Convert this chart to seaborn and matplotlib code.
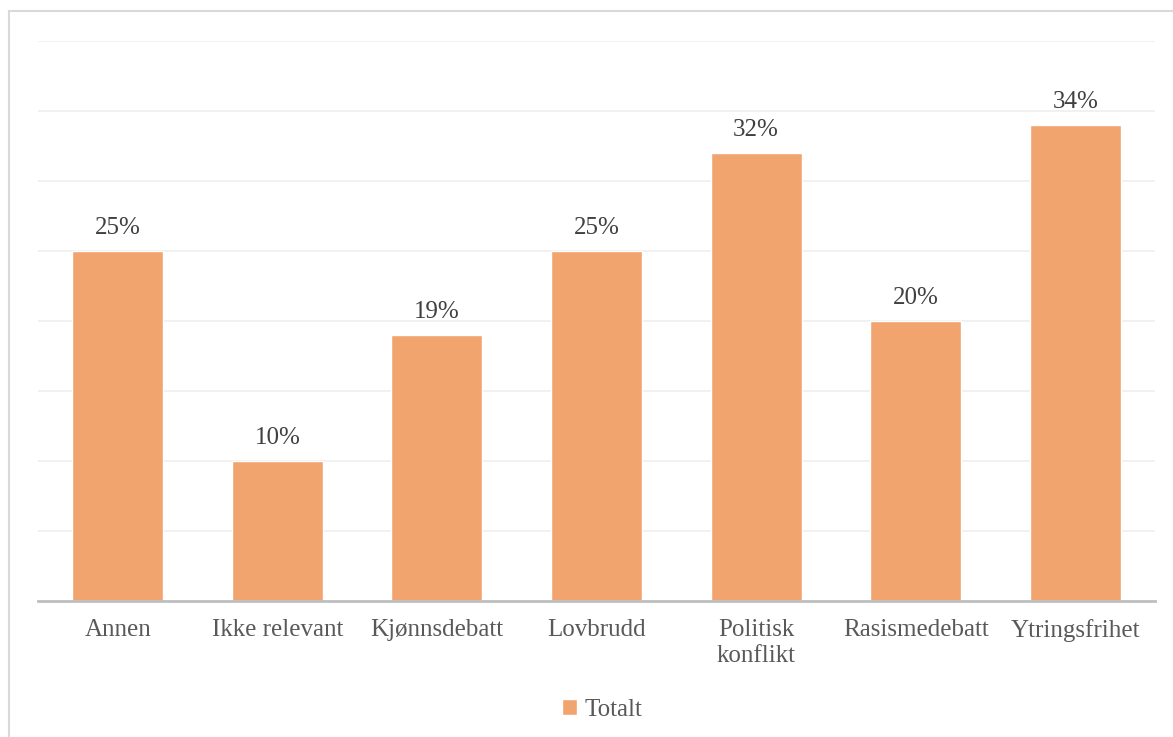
import matplotlib
matplotlib.use("Agg")
import matplotlib.pyplot as plt
import seaborn as sns
import pandas as pd
from matplotlib.patches import Rectangle

categories = ["Annen", "Ikke relevant", "Kjønnsdebatt", "Lovbrudd",
              "Politisk\nkonflikt", "Rasismedebatt", "Ytringsfrihet"]
values = [25, 10, 19, 25, 32, 20, 34]
series_name = "Totalt"

sns.set_theme(style="white")
plt.rcParams["font.family"] = ["Liberation Serif", "DejaVu Serif"]

df = pd.DataFrame({"kategori": categories, "andel": values})

fig = plt.figure(figsize=(11.73, 7.37), dpi=100)
ax = fig.add_axes([38 / 1173, 136 / 737, 1117 / 1173, 560 / 737])

bar_color = "#F2A46F"
sns.barplot(data=df, x="kategori", y="andel", color=bar_color, width=0.57,
            saturation=1, label=series_name, ax=ax, zorder=3)

ax.set_ylim(0, 40)
ax.set_yticks(range(0, 41, 5))
ax.yaxis.grid(True, color="#EFEFEF", linewidth=1.2, zorder=0)
ax.set_yticklabels([])
ax.tick_params(axis="y", length=0)
ax.tick_params(axis="x", length=0, labelsize=18, colors="#595959", pad=13)
for lbl in ax.get_xticklabels():
    lbl.set_linespacing(1.25)
ax.set_xlabel("")
ax.set_ylabel("")
for s in ["top", "right", "left"]:
    ax.spines[s].set_visible(False)
ax.spines["bottom"].set_color("#BFBFBF")
ax.spines["bottom"].set_linewidth(2)
ax.spines["bottom"].set_zorder(4)

for container in ax.containers:
    ax.bar_label(container, labels=[f"{v}%" for v in values], padding=9,
                 fontsize=18, color="#404040")

leg = ax.legend(loc="upper center", bbox_to_anchor=(0.505, -0.135), frameon=False,
                fontsize=18, handlelength=0.6, handleheight=0.6, handletextpad=0.3)
for t in leg.get_texts():
    t.set_color("#595959")

fig.patches.append(Rectangle((9 / 1173, -0.1), 1.2, (737 - 11) / 737 + 0.1,
                             transform=fig.transFigure, fill=False,
                             edgecolor="#D9D9D9", linewidth=1.5))

fig.savefig("out.png", dpi=100)
